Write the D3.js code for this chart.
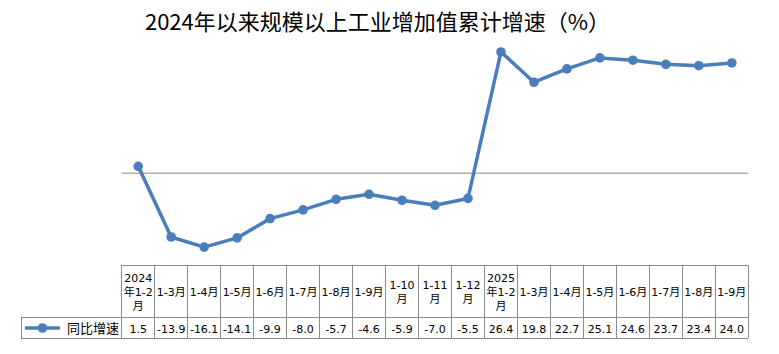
<!DOCTYPE html>
<html>
<head>
<meta charset="utf-8">
<script src="https://cdn.jsdelivr.net/npm/d3@7"></script>
<style>
  body { margin: 0; background: #fff; }
  svg { display: block; font-family: "Noto Sans CJK SC", "Noto Sans", sans-serif; }
  .cell { font-family: "DejaVu Sans", "Noto Sans CJK SC", sans-serif; font-size: 11px; }
</style>
</head>
<body>
<div id="chart"></div>
<script>
// 数据
const title = "2024年以来规模以上工业增加值累计增速（%）";
const seriesName = "同比增速";
const categories = [
  ["2024", "年1-2", "月"], ["1-3月"], ["1-4月"], ["1-5月"], ["1-6月"], ["1-7月"],
  ["1-8月"], ["1-9月"], ["1-10", "月"], ["1-11", "月"], ["1-12", "月"],
  ["2025", "年1-2", "月"], ["1-3月"], ["1-4月"], ["1-5月"], ["1-6月"], ["1-7月"],
  ["1-8月"], ["1-9月"]
];
const values = [1.5, -13.9, -16.1, -14.1, -9.9, -8.0, -5.7, -4.6, -5.9, -7.0, -5.5,
  26.4, 19.8, 22.7, 25.1, 24.6, 23.7, 23.4, 24.0];
const yDomain = [-20, 30];

const W = 779, H = 354;
const plotLeft = 121.7, plotRight = 748.3, plotTop = 35.4, plotBottom = 265;
const headerBottom = 317.7, rowBottom = 338.3, legendLeft = 21.3;
const blue = "#4a7ebb", border = "#8c8c8c";

const svg = d3.select("#chart").append("svg").attr("width", W).attr("height", H);

const idx = categories.map((d, i) => i);
const x = d3.scaleBand().domain(idx).range([plotLeft, plotRight]).padding(0);
const y = d3.scaleLinear().domain(yDomain).range([plotBottom, plotTop]);
const cx = i => x(i) + x.bandwidth() / 2;

// 标题
svg.append("text")
  .attr("x", 377.5).attr("y", 30)
  .attr("text-anchor", "middle")
  .style("font-size", "22px")
  .attr("fill", "#000")
  .text(title);

// 零线
svg.append("line")
  .attr("x1", plotLeft).attr("x2", plotRight)
  .attr("y1", y(0)).attr("y2", y(0))
  .attr("stroke", "#868686").attr("stroke-width", 1);

// 折线
const line = d3.line().x((d, i) => cx(i)).y(d => y(d));
svg.append("path")
  .datum(values)
  .attr("d", line)
  .attr("fill", "none")
  .attr("stroke", blue)
  .attr("stroke-width", 3.5)
  .attr("stroke-linejoin", "round");

svg.selectAll(".dot")
  .data(values)
  .enter().append("circle")
  .attr("cx", (d, i) => cx(i))
  .attr("cy", d => y(d))
  .attr("r", 4.8)
  .attr("fill", blue);

// 数据表
const tbl = svg.append("g").attr("shape-rendering", "crispEdges");
const hline = (x1, x2, yy) => tbl.append("line").attr("x1", x1).attr("x2", x2)
  .attr("y1", yy).attr("y2", yy).attr("stroke", border);
hline(plotLeft, plotRight, plotBottom);
hline(legendLeft, plotRight, headerBottom);
hline(legendLeft, plotRight, rowBottom);
idx.concat([idx.length]).forEach(i => {
  const xx = i < idx.length ? x(i) : plotRight;
  tbl.append("line").attr("x1", xx).attr("x2", xx)
    .attr("y1", plotBottom).attr("y2", rowBottom).attr("stroke", border);
});
tbl.append("line").attr("x1", legendLeft).attr("x2", legendLeft)
  .attr("y1", headerBottom).attr("y2", rowBottom).attr("stroke", border);

// 表头（每行一个 text）
const headMid = (plotBottom + headerBottom) / 2;
const lh = 14;
categories.forEach((lines, i) => {
  const y0 = headMid - (lines.length - 1) * lh / 2 + 4.5;
  lines.forEach((s, k) => {
    svg.append("text")
      .attr("class", "cell")
      .attr("x", cx(i)).attr("y", y0 + k * lh)
      .attr("text-anchor", "middle")
      .attr("fill", "#000")
      .text(s);
  });
});

// 数值行
const rowMid = (headerBottom + rowBottom) / 2;
svg.selectAll(".val")
  .data(values)
  .enter().append("text")
  .attr("class", "cell")
  .attr("x", (d, i) => cx(i))
  .attr("y", rowMid + 4.5)
  .attr("text-anchor", "middle")
  .attr("fill", "#000")
  .text(d => d.toFixed(1));

// 图例
svg.append("line")
  .attr("x1", 25).attr("x2", 60)
  .attr("y1", rowMid).attr("y2", rowMid)
  .attr("stroke", blue).attr("stroke-width", 3.5);
svg.append("circle").attr("cx", 42.5).attr("cy", rowMid).attr("r", 4.8).attr("fill", blue);
svg.append("text")
  .attr("x", 67).attr("y", rowMid + 4.5)
  .style("font-size", "13px")
  .attr("fill", "#000")
  .text(seriesName);
</script>
</body>
</html>
